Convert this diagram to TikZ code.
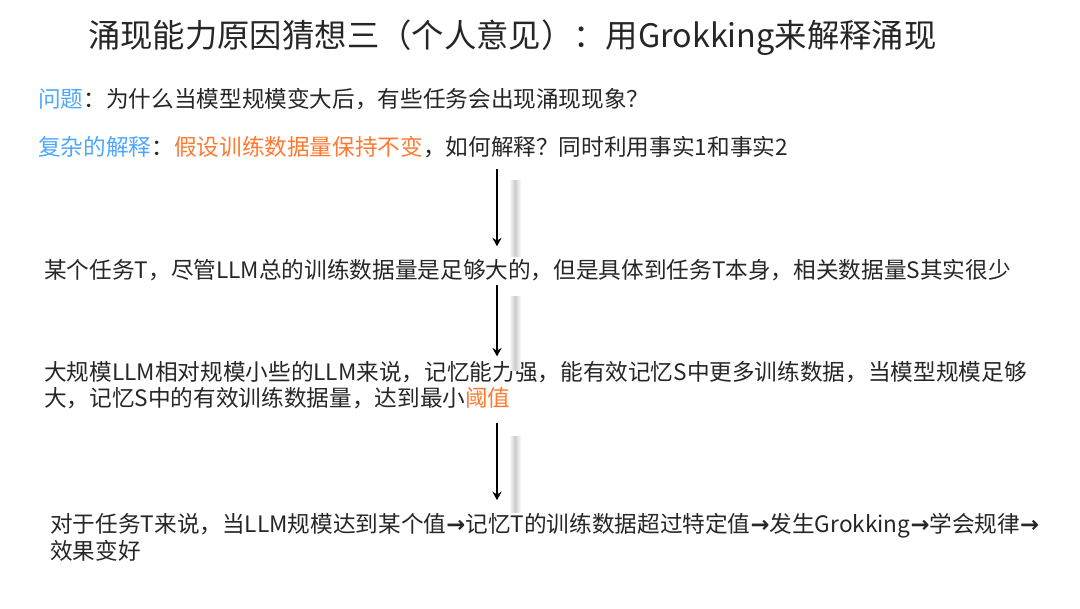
\documentclass[tikz,border=0pt]{standalone}
\usepackage{fontspec}
\setmainfont{Noto Sans CJK SC}
\newfontfamily\symfont{DejaVu Sans}
\usetikzlibrary{arrows.meta,positioning}
\definecolor{qblue}{RGB}{77,166,255}
\definecolor{hlorange}{RGB}{255,122,48}
\definecolor{txtdark}{RGB}{38,38,38}
\newcommand{\nxt}{{\symfont\bfseries →}}

\begin{document}
\begin{tikzpicture}[
  x=0.025cm, y=-0.025cm,
  every node/.style={inner sep=0pt, anchor=west, text=txtdark, font=\fontsize{16.1}{19}\selectfont},
  para/.style={align=left},
  arr/.style={-{Stealth[length=6pt,width=6.5pt]}, line width=0.9pt, draw=black},
  shadowbar/.style={left color=white, right color=white, middle color=black!20}
]
  \useasboundingbox (0,0) rectangle (1080,608);

  \node[font=\fontsize{23}{27}\selectfont] (title) at (88,38) {涌现能力原因猜想三（个人意见）：用Grokking来解释涌现};

  \node (question) at (38,99) {\textcolor{qblue}{问题}：为什么当模型规模变大后，有些任务会出现涌现现象？};
  \node (explain) at (38,147) {\textcolor{qblue}{复杂的解释}：\textcolor{hlorange}{假设训练数据量保持不变}，如何解释？同时利用事实1和事实2};

  \node (fact) at (44,270) {某个任务T，尽管LLM总的训练数据量是足够大的，但是具体到任务T本身，相关数据量S其实很少};
  \node[para] (memory) at (44,385) {大规模LLM相对规模小些的LLM来说，记忆能力强，能有效记忆S中更多训练数据，当模型规模足够\\大，记忆S中的有效训练数据量，达到最小\textcolor{hlorange}{阈值}};
  \node[para] (result) at (50,537) {对于任务T来说，当LLM规模达到某个值\nxt 记忆T的训练数据超过特定值\nxt 发生Grokking\nxt 学会规律\nxt\\效果变好};

  \coordinate (axis) at (497,0);

  % soft shadows beside the arrows
  \foreach \ya/\yb in {180/256, 296/370, 436/512}
    \shade[shadowbar] (509,\ya) rectangle (521,\yb);

  \draw[arr, shorten <=8pt, shorten >=9pt] (explain.south -| axis) -- (fact.north -| axis);
  \draw[arr, shorten <=3pt, shorten >=3pt] (fact.south -| axis) -- (memory.north -| axis);
  \draw[arr, shorten <=10pt, shorten >=9pt] (memory.south -| axis) -- (result.north -| axis);
\end{tikzpicture}
\end{document}
